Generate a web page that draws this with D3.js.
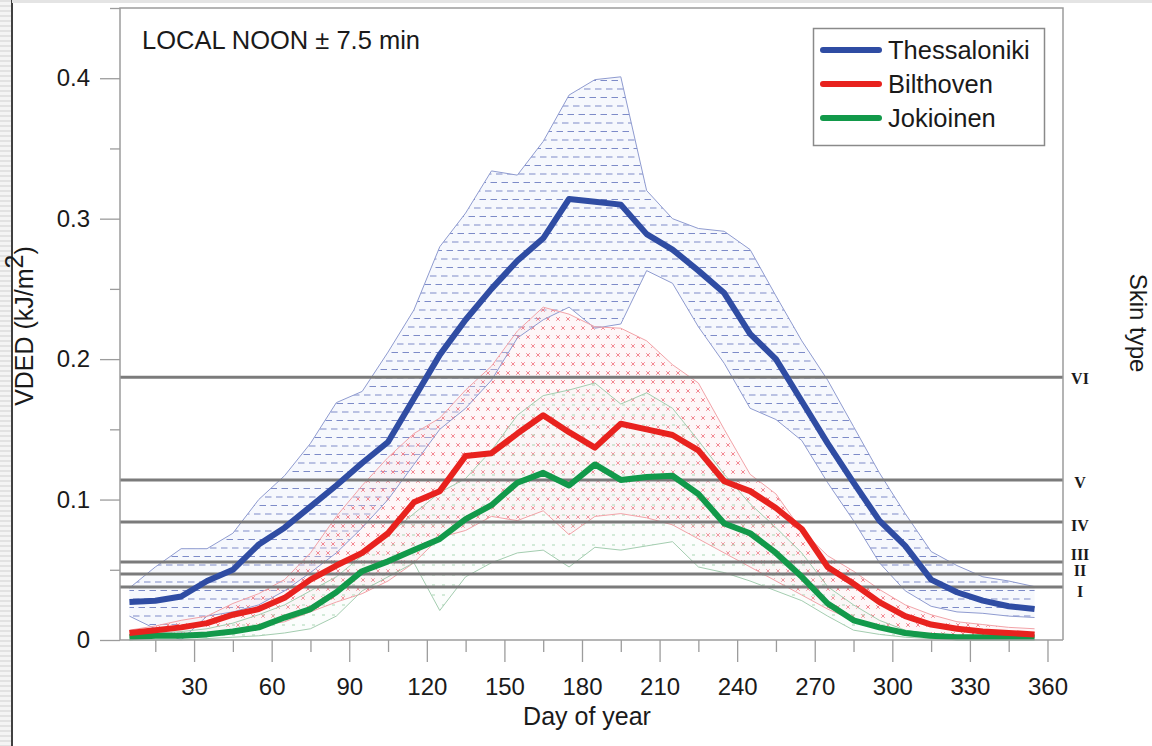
<!DOCTYPE html>
<html>
<head>
<meta charset="utf-8">
<script src="https://cdn.jsdelivr.net/npm/d3@7"></script>
<style>
  html, body { margin: 0; padding: 0; background: #fff; }
  svg { display: block; }
  text { font-family: "Liberation Sans", Arial, Helvetica, sans-serif; fill: #1a1a1a; }
</style>
</head>
<body>
<svg id="chart" width="1152" height="746"></svg>
<script>
// ---------- DATA ----------
const days = [5,15,25,35,45,55,65,75,85,95,105,115,125,135,145,155,165,175,185,195,205,215,225,235,245,255,265,275,285,295,305,315,325,335,345,355];

const thessMean = [0.027,0.028,0.031,0.042,0.050,0.068,0.080,0.095,0.110,0.126,0.141,0.172,0.203,0.228,0.250,0.270,0.286,0.314,0.312,0.310,0.289,0.278,0.263,0.247,0.218,0.200,0.170,0.140,0.112,0.085,0.067,0.043,0.034,0.028,0.024,0.022];
const thessMax  = [0.037,0.052,0.065,0.065,0.076,0.100,0.117,0.140,0.169,0.177,0.205,0.235,0.280,0.304,0.334,0.331,0.355,0.388,0.399,0.401,0.320,0.300,0.293,0.291,0.278,0.245,0.213,0.185,0.152,0.119,0.090,0.063,0.053,0.045,0.042,0.038];
const thessMin  = [0.017,0.008,0.000,0.017,0.020,0.025,0.035,0.048,0.062,0.080,0.100,0.125,0.150,0.165,0.185,0.215,0.228,0.237,0.222,0.225,0.263,0.254,0.223,0.197,0.165,0.157,0.142,0.112,0.085,0.055,0.035,0.024,0.020,0.019,0.017,0.016];

const bilthMean = [0.005,0.007,0.009,0.012,0.018,0.022,0.030,0.043,0.053,0.062,0.076,0.098,0.106,0.131,0.133,0.147,0.160,0.148,0.137,0.154,0.150,0.146,0.135,0.113,0.106,0.094,0.079,0.052,0.040,0.027,0.017,0.011,0.008,0.006,0.005,0.004];
const bilthMax  = [0.007,0.010,0.014,0.017,0.026,0.033,0.043,0.062,0.088,0.110,0.130,0.147,0.158,0.178,0.195,0.220,0.237,0.232,0.223,0.222,0.213,0.196,0.183,0.150,0.118,0.104,0.078,0.060,0.049,0.036,0.025,0.018,0.013,0.011,0.009,0.008];
const bilthMin  = [0.002,0.002,0.002,0.004,0.007,0.010,0.013,0.020,0.027,0.033,0.042,0.055,0.073,0.078,0.088,0.085,0.092,0.075,0.088,0.090,0.087,0.082,0.072,0.062,0.052,0.042,0.032,0.022,0.014,0.009,0.006,0.004,0.003,0.002,0.002,0.002];

const jokiMean = [0.002,0.003,0.003,0.004,0.006,0.009,0.016,0.022,0.034,0.049,0.056,0.064,0.072,0.086,0.096,0.112,0.119,0.110,0.125,0.114,0.116,0.117,0.104,0.083,0.076,0.062,0.045,0.026,0.014,0.009,0.005,0.003,0.002,0.002,0.002,0.002];
const jokiMax  = [0.004,0.005,0.006,0.008,0.012,0.018,0.025,0.035,0.045,0.060,0.075,0.090,0.105,0.115,0.135,0.160,0.174,0.178,0.183,0.168,0.176,0.165,0.142,0.118,0.097,0.080,0.062,0.038,0.025,0.014,0.007,0.004,0.003,0.002,0.002,0.002];
const jokiMin  = [0.000,0.000,0.000,0.001,0.002,0.003,0.005,0.008,0.017,0.035,0.045,0.055,0.021,0.045,0.055,0.062,0.064,0.052,0.066,0.064,0.067,0.070,0.052,0.048,0.042,0.035,0.028,0.017,0.007,0.004,0.002,0.001,0.000,0.000,0.000,0.000];

const stations = ["Thessaloniki","Bilthoven","Jokioinen"];
const skinLabels = ["I","II","III","IV","V","VI"];
const skinValues = [0.0378,0.047,0.0556,0.084,0.114,0.187];

const xMajorTicks = [30,60,90,120,150,180,210,240,270,300,330,360];
const xMinorTicks = [15,45,75,105,135,165,195,225,255,285,315,345];
const yMajorTicks = [0,0.1,0.2,0.3,0.4];
const yMinorTicks = [0.05,0.15,0.25,0.35,0.45];

const titleText = "LOCAL NOON \u00B1 7.5 min";
const xTitle = "Day of year";
const yTitle = "VDED (kJ/m";
const yTitleSup = "2";
const yTitleEnd = ")";
const rightTitle = "Skin type";

// ---------- LAYOUT ----------
const L = 120, R = 1063, T = 8, B = 640;
const svg = d3.select("#chart");
const x = d3.scaleLinear().domain([0, 366]).range([116.5, 1063]);
const y = d3.scaleLinear().domain([0, 0.45]).range([B, T]);

const colors = { Thessaloniki: "#2f4ca3", Bilthoven: "#e8221e", Jokioinen: "#12994a" };
const axisGray = "#9c9c9c";

// page artifacts (left scroll strip + top rule)
const defs = svg.append("defs");
const strip = defs.append("pattern").attr("id","strip").attr("patternUnits","userSpaceOnUse").attr("width",12).attr("height",5);
strip.append("rect").attr("width",12).attr("height",5).attr("fill","#f4f4f4");
strip.append("line").attr("x1",0).attr("x2",12).attr("y1",1).attr("y2",1).attr("stroke","#d6d6d6").attr("stroke-width",1.2);
svg.append("rect").attr("x",0).attr("y",0).attr("width",11).attr("height",746).attr("fill","url(#strip)");
svg.append("line").attr("x1",12).attr("x2",12).attr("y1",0).attr("y2",746).attr("stroke","#111").attr("stroke-width",1.6);
svg.append("rect").attr("x",12).attr("y",0).attr("width",1140).attr("height",3).attr("fill","#e4e4e4");

// fill patterns
const pBlue = defs.append("pattern").attr("id","pBlue").attr("patternUnits","userSpaceOnUse").attr("width",11).attr("height",17);
pBlue.append("line").attr("x1",1).attr("x2",7.5).attr("y1",4).attr("y2",4).attr("stroke","#7d8bc8").attr("stroke-width",1);
pBlue.append("line").attr("x1",6.5).attr("x2",13).attr("y1",12.5).attr("y2",12.5).attr("stroke","#7d8bc8").attr("stroke-width",1);
pBlue.append("line").attr("x1",-4.5).attr("x2",2).attr("y1",12.5).attr("y2",12.5).attr("stroke","#7d8bc8").attr("stroke-width",1);

const pRed = defs.append("pattern").attr("id","pRed").attr("patternUnits","userSpaceOnUse").attr("width",10).attr("height",18);
[[3,4],[8,13]].forEach(([cx,cy]) => {
  pRed.append("path").attr("d",`M${cx-1.8},${cy-1.8}L${cx+1.8},${cy+1.8}M${cx-1.8},${cy+1.8}L${cx+1.8},${cy-1.8}`)
    .attr("stroke","#f07a86").attr("stroke-width",0.9).attr("fill","none");
});

const pGreen = defs.append("pattern").attr("id","pGreen").attr("patternUnits","userSpaceOnUse").attr("width",10).attr("height",10);
pGreen.append("line").attr("x1",2).attr("x2",5).attr("y1",5).attr("y2",5).attr("stroke","#9fd3ad").attr("stroke-width",0.9);

// ---------- BANDS ----------
function bandData(lo, hi) { return days.map((d,i) => ({d, lo: lo[i], hi: hi[i]})); }
const area = d3.area().x(p => x(p.d)).y0(p => y(p.lo)).y1(p => y(p.hi));
const lineHi = d3.line().x(p => x(p.d)).y(p => y(p.hi));
const lineLo = d3.line().x(p => x(p.d)).y(p => y(p.lo));

const bands = [
  {data: bandData(thessMin, thessMax), pat: "pBlue", tint: "rgba(215,222,245,0.22)", edge: "#8f9bd0"},
  {data: bandData(bilthMin, bilthMax), pat: "pRed", tint: "rgba(252,228,230,0.28)", edge: "#f2a3a8"},
  {data: bandData(jokiMin, jokiMax), pat: "pGreen", tint: "rgba(230,244,234,0.15)", edge: "#a4cdb0"}
];
const bandG = svg.append("g");
bands.forEach(b => {
  bandG.append("path").datum(b.data).attr("d", area).attr("fill", b.tint);
  bandG.append("path").datum(b.data).attr("d", area).attr("fill", `url(#${b.pat})`);
});
bands.forEach(b => {
  bandG.append("path").datum(b.data).attr("d", lineHi).attr("fill","none").attr("stroke", b.edge).attr("stroke-width",1);
  bandG.append("path").datum(b.data).attr("d", lineLo).attr("fill","none").attr("stroke", b.edge).attr("stroke-width",1);
});

// ---------- SKIN TYPE LINES ----------
const skinG = svg.append("g");
skinG.selectAll("line").data(skinValues).join("line")
  .attr("x1", L).attr("x2", R)
  .attr("y1", v => y(v)).attr("y2", v => y(v))
  .attr("stroke", "#7b7b7b").attr("stroke-width", 3);
const labelNudge = [4, -4, -8, 3, 3, 1];
skinG.selectAll("text").data(skinLabels).join("text")
  .attr("x", 1080).attr("y", (t,i) => y(skinValues[i]) + labelNudge[i])
  .attr("dy", "0.35em").attr("text-anchor","middle")
  .style("font-family", "'Liberation Serif','Times New Roman',serif")
  .style("font-weight","bold").style("font-size","16px")
  .text(t => t);

// ---------- MAIN LINES ----------
const meanLine = d3.line().x((v,i) => x(days[i])).y(v => y(v));
const means = [thessMean, bilthMean, jokiMean];
const lineG = svg.append("g");
[2,1,0].forEach(k => {
  lineG.append("path").datum(means[k]).attr("d", meanLine)
    .attr("fill","none").attr("stroke", colors[stations[k]])
    .attr("stroke-width", 6).attr("stroke-linejoin","round").attr("stroke-linecap","butt");
});

// ---------- FRAME & AXES ----------
svg.append("path").attr("d", `M${L},${B}V${T}H${R}V${B}`).attr("fill","none").attr("stroke", axisGray).attr("stroke-width",1.5);

const xMajor = d3.axisBottom(x).tickValues(xMajorTicks).tickSize(22).tickPadding(16).tickFormat(d3.format("d"));
const xMinor = d3.axisBottom(x).tickValues(xMinorTicks).tickSize(12).tickFormat("");
const gx = svg.append("g").attr("transform", `translate(0,${B})`);
gx.call(xMajor);
gx.append("g").call(xMinor);
gx.selectAll(".domain").remove();
gx.append("line").attr("x1", L).attr("x2", R).attr("stroke", axisGray).attr("stroke-width", 1.5);
gx.selectAll(".tick line").attr("stroke", axisGray).attr("stroke-width", 1.3);
gx.selectAll(".tick text").style("font-size","24px").style("font-family","'Liberation Sans',Arial,sans-serif").attr("fill","#222");

const yMajor = d3.axisLeft(y).tickValues(yMajorTicks).tickSize(20).tickPadding(10).tickFormat(d => d === 0 ? "0" : d3.format(".1f")(d));
const yMinor = d3.axisLeft(y).tickValues(yMinorTicks).tickSize(10).tickFormat("");
const gy = svg.append("g").attr("transform", `translate(${L},0)`);
gy.call(yMajor);
gy.append("g").call(yMinor);
gy.selectAll(".domain").remove();
gy.selectAll(".tick line").attr("stroke", axisGray).attr("stroke-width", 1.3);
gy.selectAll(".tick text").style("font-size","24px").style("font-family","'Liberation Sans',Arial,sans-serif").attr("fill","#222");

// ---------- TEXTS ----------
svg.append("text").attr("x", 142).attr("y", 49).style("font-size","25.5px").text(titleText);
svg.append("text").attr("x", 587).attr("y", 725).attr("text-anchor","middle").style("font-size","25px").text(xTitle);

const yt = svg.append("text").attr("transform","translate(33,326) rotate(-90)").attr("text-anchor","middle").style("font-size","25px");
yt.append("tspan").text(yTitle);
yt.append("tspan").attr("dy","-10").style("font-size","25px").text(yTitleSup);
yt.append("tspan").attr("dy","10").text(yTitleEnd);

svg.append("text").attr("transform","translate(1130,323) rotate(90)").attr("text-anchor","middle").style("font-size","24px").text(rightTitle);

// ---------- LEGEND ----------
const lg = svg.append("g");
lg.append("rect").attr("x", 813.5).attr("y", 28.5).attr("width", 231).attr("height", 117)
  .attr("fill","#fff").attr("stroke","#8a8a8a").attr("stroke-width",1.5);
const legY = d3.scalePoint().domain(stations).range([50, 118]);
stations.forEach(s => {
  lg.append("line").attr("x1", 823).attr("x2", 879).attr("y1", legY(s)).attr("y2", legY(s))
    .attr("stroke", colors[s]).attr("stroke-width", 6).attr("stroke-linecap","round");
  lg.append("text").attr("x", 888).attr("y", legY(s)).attr("dy","0.36em").style("font-size","25.5px").text(s);
});
</script>
</body>
</html>
